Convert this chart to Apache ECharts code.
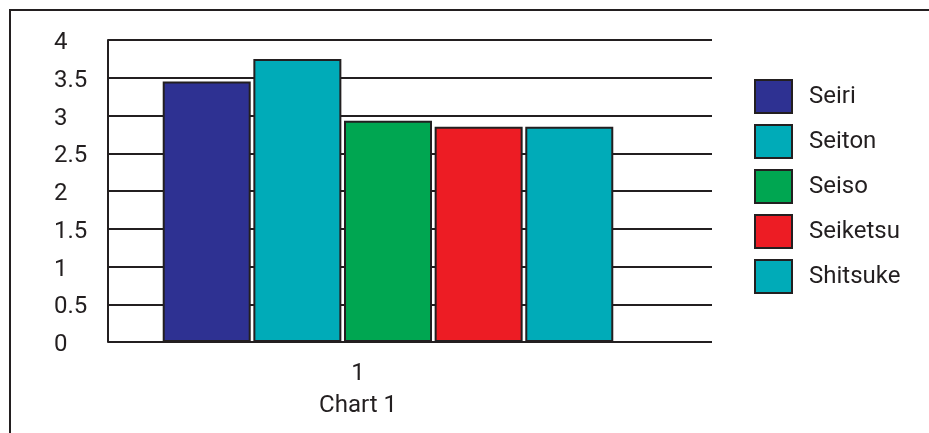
<!DOCTYPE html>
<html>
<head>
<meta charset="utf-8">
<script src="https://cdn.jsdelivr.net/npm/echarts@6/dist/echarts.min.js"></script>
<style>
  html, body { margin: 0; padding: 0; background: #fff; }
  #chart { width: 929px; height: 433px; }
</style>
</head>
<body>
<div id="chart"></div>
<script>
// 5S audit scores
const categories = ['1'];
const seriesNames = ['Seiri', 'Seiton', 'Seiso', 'Seiketsu', 'Shitsuke'];
const seiri = [3.45];
const seiton = [3.75];
const seiso = [2.93];
const seiketsu = [2.85];
const shitsuke = [2.85];
const seriesValues = [seiri, seiton, seiso, seiketsu, shitsuke];
const seriesColors = ['#2e3192', '#00abb8', '#00a651', '#ed1c24', '#00abb8'];
const axisTitle = 'Chart 1';

const ink = '#231f20';
const font = 'Roboto';
const weight = 'normal';

const chart = echarts.init(document.getElementById('chart'));

chart.setOption({
  animation: false,
  backgroundColor: '#ffffff',
  textStyle: { fontFamily: font },
  graphic: [{
    type: 'rect',
    silent: true,
    shape: { x: 10, y: 10, width: 1200, height: 800 },
    style: { fill: 'none', stroke: ink, lineWidth: 2 }
  }],
  grid: [
    // grid carrying the value scale and its horizontal rules
    { left: 108, top: 40, width: 604, height: 302 },
    // grid carrying the bars
    { left: 108, top: 40, width: 560, height: 302 }
  ],
  xAxis: [
    { gridIndex: 0, type: 'category', data: categories, show: false },
    {
      gridIndex: 1,
      type: 'category',
      data: categories,
      axisLine: { show: false },
      axisTick: { show: false },
      axisLabel: {
        fontFamily: font, fontWeight: weight, fontSize: 24, color: ink,
        margin: 20, padding: [0, 60, 0, 0]
      },
      name: axisTitle,
      nameLocation: 'middle',
      nameGap: 52,
      nameTextStyle: {
        fontFamily: font, fontWeight: weight, fontSize: 24, color: ink,
        padding: [0, 60, 0, 0]
      }
    }
  ],
  yAxis: [
    {
      gridIndex: 0,
      type: 'value',
      min: 0, max: 4, interval: 0.5,
      axisLine: { show: true, lineStyle: { color: ink, width: 2 } },
      axisTick: { show: false },
      splitLine: { show: true, lineStyle: { color: ink, width: 2 } },
      axisLabel: {
        fontFamily: font, fontWeight: weight, fontSize: 24, color: ink,
        align: 'left', margin: 54, verticalAlign: 'top', lineHeight: 6
      }
    },
    { gridIndex: 1, type: 'value', min: 0, max: 4, interval: 0.5, show: false, splitLine: { show: false } }
  ],
  legend: {
    orient: 'vertical',
    left: 749,
    top: 74,
    itemWidth: 37,
    itemHeight: 33,
    itemGap: 10,
    icon: 'rect',
    data: seriesNames,
    itemStyle: { borderColor: ink, borderWidth: 2 },
    textStyle: {
      fontFamily: font, fontWeight: weight, fontSize: 24, color: ink,
      padding: [0, 0, 0, 12]
    }
  },
  series: seriesNames.map((name, i) => ({
    name: name,
    type: 'bar',
    xAxisIndex: 1,
    yAxisIndex: 1,
    data: seriesValues[i],
    barWidth: 88,
    barGap: '3%',
    itemStyle: { color: seriesColors[i], borderColor: ink, borderWidth: 2 }
  }))
});
</script>
</body>
</html>
